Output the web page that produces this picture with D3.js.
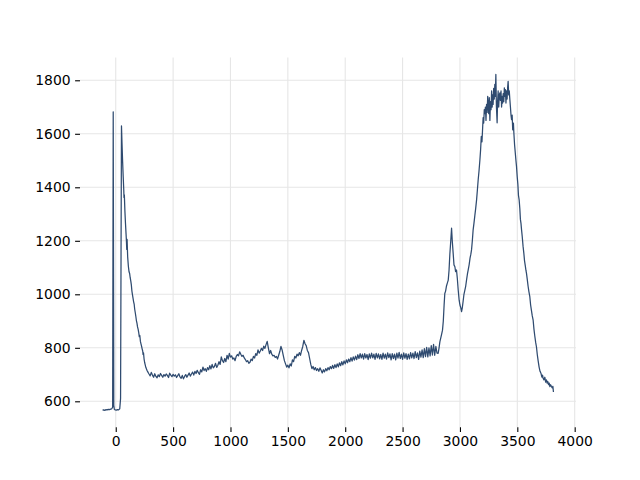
<!DOCTYPE html>
<html>
<head>
<meta charset="utf-8">
<script src="https://cdn.jsdelivr.net/npm/d3@7"></script>
<style>
html,body{margin:0;padding:0;background:#fff;}
svg{display:block;}
</style>
</head>
<body>
<svg id="chart" width="640" height="480"></svg>
<script>
// [wavenumber, intensity] pairs, by region
const segStart = [
[-115,567],[-105,568],[-95,566],[-85,569],[-75,568],[-65,570],[-55,569],[-45,571],[-35,572],[-27,578],[-22,1682],[-17,585],[-12,570],[-5,568],[5,567],[15,569],[25,568],[35,572],[42,610],[50,1630],[55,1560],[60,1495],[65,1440],[70,1390],[72,1362],[75,1372],[80,1310],[85,1265],[90,1225],[93,1200],[96,1168],[99,1205],[104,1140],[110,1105],[116,1084],[121,1078],[126,1062],[131,1050],[136,1035],[141,1012],[146,998],[151,985],[156,972],[161,962],[165,945],[170,932],[175,918],[180,902],[185,892],[190,878],[195,870],[200,858],[205,842],[210,846],[215,824],[220,815],[225,806],[230,796],[235,788],[238,775],[242,781],[247,758],[252,745],[257,736],[262,727],[267,722],[272,716],[277,712],[282,708]
];
const segBaseline = [
[290,702],[300,695],[310,708],[320,698],[330,690],[340,703],[350,693],[360,688],[370,699],[380,692],[390,704],[400,697],[410,690],[420,700],[430,694],[440,702],[450,697],[460,689],[470,705],[480,698],[490,692],[500,701],[510,694],[520,699],[530,689],[540,696],[550,703],[560,691],[570,686],[580,697],[590,684],[600,693],[610,700],[620,690],[630,698],[640,706],[650,694],[660,702],[670,709],[680,698],[690,712],[700,704],[710,716],[720,707],[730,701],[740,718],[750,710],[760,728],[770,715],[780,722],[790,712],[800,726],[810,718],[820,733],[830,721],[840,738],[850,725],[860,730],[870,742],[880,727],[890,735],[900,748]
];
const segMid = [
[910,738],[920,766],[930,752],[940,745],[950,760],[960,748],[970,772],[980,758],[990,779],[1000,765],[1010,770],[1020,758],[1030,762],[1040,752],[1050,768],[1060,775],[1070,770],[1080,785],[1090,776],[1100,768],[1110,772],[1120,762],[1130,756],[1140,748],[1150,752],[1160,742],[1170,746],[1180,758],[1190,752],[1200,768],[1210,762],[1220,778],[1230,772],[1240,792],[1250,780],[1260,788],[1270,798],[1280,790],[1290,806],[1300,798],[1310,812],[1320,824],[1330,800],[1340,778],[1350,790],[1360,776],[1370,770],[1380,772],[1390,764],[1400,768],[1410,758],[1420,772],[1430,786],[1440,805],[1450,792],[1460,772],[1470,752],[1480,740],[1490,728],[1500,735],[1510,725],[1520,740],[1530,732],[1540,755],[1550,748],[1560,768],[1570,762],[1580,776],[1590,770],[1600,782],[1610,772],[1620,790],[1630,805],[1640,828],[1650,815],[1660,808],[1670,790],[1680,782],[1690,760],[1700,738],[1710,722],[1720,730],[1730,718],[1740,726],[1750,715],[1760,722],[1770,712],[1780,725],[1790,716],[1800,706],[1810,718],[1820,710],[1830,722],[1840,714],[1850,726],[1860,718],[1870,730]
];
const segPlateau = [
[1880,722],[1890,734],[1900,723],[1910,737],[1920,726],[1930,740],[1940,729],[1950,744],[1960,733],[1970,748],[1980,736],[1990,751],[2000,740],[2010,755],[2020,744],[2030,758],[2040,748],[2050,763],[2060,750],[2070,766],[2080,754],[2090,769],[2100,756],[2110,774],[2120,760],[2130,778],[2140,762],[2150,776],[2160,758],[2170,778],[2180,762],[2190,775],[2200,756],[2210,777],[2220,761],[2230,780],[2240,762],[2250,776],[2260,757],[2270,779],[2280,762],[2290,777],[2300,759],[2310,775],[2320,757],[2330,780],[2340,761],[2350,776],[2360,758],[2370,781],[2380,763],[2390,777],[2400,755],[2410,778],[2420,760],[2430,776],[2440,755],[2450,780],[2460,761],[2470,783],[2480,760],[2490,776],[2500,757],[2510,781],[2520,761],[2530,778],[2540,757],[2550,776],[2560,759],[2570,782],[2580,762],[2590,780],[2600,760],[2610,786],[2620,763],[2630,781],[2640,757],[2650,788],[2660,765],[2670,792],[2680,763],[2690,797],[2700,767],[2710,802],[2720,766],[2730,800],[2740,770],[2750,808],[2760,773],[2770,813],[2780,772],[2790,805],[2800,780]
];
const segPeaks = [
[2810,779],[2818,800],[2825,822],[2832,835],[2840,850],[2848,866],[2855,900],[2862,960],[2868,1003],[2875,1012],[2882,1030],[2890,1042],[2898,1053],[2905,1090],[2912,1150],[2920,1200],[2927,1247],[2933,1200],[2941,1153],[2948,1110],[2956,1103],[2962,1085],[2970,1091],[2977,1060],[2985,1015],[2993,978],[3000,960],[3007,950],[3014,935],[3020,948],[3028,975],[3035,1000],[3043,1016],[3050,1030],[3058,1055],[3065,1075],[3072,1091],[3080,1110],[3088,1135],[3095,1150],[3101,1166],[3108,1200],[3115,1241],[3122,1265],[3130,1295],[3137,1320],[3145,1353],[3152,1390],[3159,1428],[3166,1460],[3174,1503],[3180,1540],[3186,1590],[3192,1570],[3197,1615],[3202,1660],[3207,1640],[3212,1690],[3217,1675],[3222,1700],[3227,1650],[3232,1710],[3237,1680],[3242,1740],[3246,1710],[3251,1675],[3256,1735],[3261,1650],[3266,1720],[3271,1690],[3276,1760],[3281,1700],[3285,1745],[3289,1710],[3294,1770],[3299,1730],[3304,1785],[3308,1740],[3313,1822],[3318,1700],[3324,1641],[3328,1720],[3333,1760],[3338,1700],[3343,1745],[3348,1753],[3353,1725],[3358,1760],[3363,1700],[3368,1740],[3372,1715],[3377,1750],[3382,1720],[3387,1772],[3391,1740],[3396,1765],[3401,1715],[3406,1760],[3411,1730],[3416,1775],[3420,1796],[3425,1745],[3430,1760],[3435,1728],[3440,1700],[3445,1670],[3450,1653],[3455,1670],[3460,1615],[3466,1640],[3470,1603],[3476,1560],[3482,1530],[3488,1500],[3493,1478],[3499,1440],[3505,1410],[3510,1370],[3516,1353],[3522,1320],[3527,1280],[3532,1265],[3537,1241],[3543,1215],[3550,1180],[3557,1153],[3563,1125],[3570,1105],[3575,1090],[3580,1078],[3587,1055],[3594,1030],[3601,1010],[3609,991],[3616,960],[3623,940],[3630,920],[3638,903],[3645,870],[3652,845],[3660,820],[3667,803],[3674,775],[3682,750],[3690,728],[3698,712],[3706,705],[3714,690],[3720,698],[3725,686],[3732,680],[3740,690],[3747,672],[3754,680],[3760,668],[3766,674],[3772,662],[3778,668],[3784,655],[3790,662],[3798,655],[3805,650],[3810,656],[3815,635]
];
const xTicks = [0, 500, 1000, 1500, 2000, 2500, 3000, 3500, 4000];
const yTicks = [600, 800, 1000, 1200, 1400, 1600, 1800];

const data = [].concat(segStart, segBaseline, segMid, segPlateau, segPeaks);

const svg = d3.select("#chart");
const padL = 80, padR = 576, padT = 57.6, padB = 427.2;

const xExt = d3.extent(data, d => d[0]);
const yExt = d3.extent(data, d => d[1]);
const xPad = (xExt[1] - xExt[0]) * 0.05;
const yPad = (yExt[1] - yExt[0]) * 0.05;

const x = d3.scaleLinear().domain([xExt[0] - xPad, xExt[1] + xPad]).range([padL, padR]);
const y = d3.scaleLinear().domain([yExt[0] - yPad, yExt[1] + yPad]).range([padB, padT]);

// grid
const grid = svg.append("g");
grid.selectAll("line.vx").data(xTicks).join("line")
  .attr("class","vx")
  .attr("x1", d => x(d)).attr("x2", d => x(d))
  .attr("y1", padT).attr("y2", padB)
  .attr("stroke", "#e6e6e6").attr("stroke-width", 1.1);
grid.selectAll("line.hy").data(yTicks).join("line")
  .attr("class","hy")
  .attr("x1", padL).attr("x2", padR)
  .attr("y1", d => y(d)).attr("y2", d => y(d))
  .attr("stroke", "#e6e6e6").attr("stroke-width", 1.1);

// axes
const xAxis = d3.axisBottom(x).tickValues(xTicks).tickSizeInner(4.9).tickSizeOuter(0).tickPadding(4.5).tickFormat(d3.format("d"));
const yAxis = d3.axisLeft(y).tickValues(yTicks).tickSizeInner(4.9).tickSizeOuter(0).tickPadding(4.5).tickFormat(d3.format("d"));

const gx = svg.append("g").attr("transform", `translate(0,${padB})`).call(xAxis);
const gy = svg.append("g").attr("transform", `translate(${padL},0)`).call(yAxis);
[gx, gy].forEach(g => {
  g.select(".domain").remove();
  g.selectAll(".tick line").attr("stroke", "#000").attr("stroke-width", 1.1);
  g.selectAll(".tick text").attr("fill", "#000")
    .style("font-family", "'DejaVu Sans', sans-serif").style("font-size", "13.9px");
});

// spectrum line
const line = d3.line().x(d => x(d[0])).y(d => y(d[1]));
svg.append("path").datum(data)
  .attr("d", line)
  .attr("fill", "none")
  .attr("stroke", "#2f4b70")
  .attr("stroke-width", 1.25)
  .attr("stroke-linejoin", "round");
</script>
</body>
</html>
